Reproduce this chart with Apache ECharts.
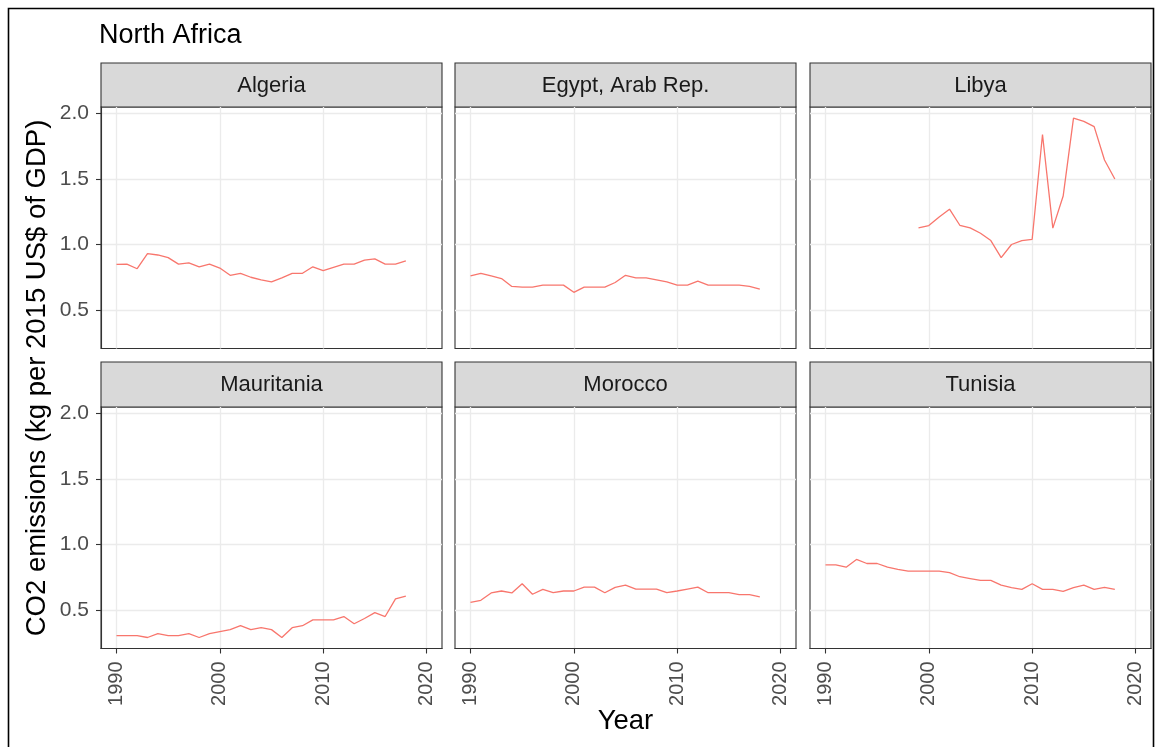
<!DOCTYPE html>
<html><head><meta charset="utf-8">
<script src="https://cdn.jsdelivr.net/npm/echarts@6/dist/echarts.min.js"></script>
<style>html,body{margin:0;padding:0;background:#fff;}#chart{width:1161px;height:747px;}</style>
</head><body><div id="chart"></div>
<script>
const years = [1990,1991,1992,1993,1994,1995,1996,1997,1998,1999,2000,2001,2002,2003,2004,2005,2006,2007,2008,2009,2010,2011,2012,2013,2014,2015,2016,2017,2018];
const countries = ['Algeria','Egypt, Arab Rep.','Libya','Mauritania','Morocco','Tunisia'];
const algeria = [0.848,0.85,0.815,0.93,0.92,0.90,0.85,0.86,0.83,0.85,0.82,0.765,0.78,0.75,0.73,0.715,0.745,0.78,0.78,0.83,0.80,0.825,0.85,0.85,0.88,0.89,0.85,0.85,0.875];
const egypt = [0.76,0.78,0.76,0.74,0.68,0.675,0.675,0.69,0.69,0.69,0.635,0.675,0.675,0.675,0.71,0.765,0.745,0.745,0.73,0.715,0.69,0.69,0.72,0.69,0.69,0.69,0.69,0.68,0.66];
const libya = [null,null,null,null,null,null,null,null,null,1.127,1.145,1.21,1.27,1.147,1.127,1.086,1.03,0.90,1.0,1.03,1.04,1.84,1.125,1.37,1.965,1.94,1.90,1.645,1.5];
const mauritania = [0.305,0.305,0.305,0.29,0.32,0.305,0.305,0.32,0.29,0.32,0.335,0.35,0.38,0.35,0.365,0.35,0.29,0.365,0.38,0.425,0.425,0.425,0.45,0.395,0.435,0.48,0.45,0.585,0.605];
const morocco = [0.558,0.574,0.63,0.645,0.63,0.70,0.62,0.657,0.632,0.645,0.645,0.675,0.675,0.632,0.673,0.69,0.66,0.66,0.66,0.632,0.645,0.66,0.675,0.632,0.632,0.632,0.617,0.617,0.60];
const tunisia = [0.845,0.845,0.827,0.886,0.855,0.855,0.827,0.81,0.797,0.797,0.797,0.797,0.785,0.754,0.74,0.726,0.726,0.69,0.67,0.657,0.70,0.657,0.657,0.642,0.67,0.69,0.657,0.673,0.657];
const xTicks = [1990,2000,2010,2020];
const yTicks = [0.5,1.0,1.5,2.0];
const title = 'North Africa';
const xTitle = 'Year';
const yTitle = 'CO2 emissions (kg per 2015 US$ of GDP)';

const values = [algeria, egypt, libya, mauritania, morocco, tunisia];
const FONT = "'Liberation Sans', Arial, sans-serif";
const colLeft = [101, 455, 810], colW = 341;
const rowTop = [107, 407], rowH = 241.5;
const stripTop = [63, 362];
const xMin = 1988.5, xMax = 2021.5, yMin = 0.206, yMax = 2.05;

const grids = [], xAxes = [], yAxes = [], series = [], graphics = [];
countries.forEach((name, i) => {
  const r = Math.floor(i / 3), c = i % 3;
  grids.push({left: colLeft[c], top: rowTop[r], width: colW, height: rowH, show: true,
    borderColor: '#333333', borderWidth: 1.1, backgroundColor: 'transparent'});
  const bottom = r === 1, left = c === 0;
  xAxes.push({type: 'value', gridIndex: i, min: xMin, max: xMax,
    axisLine: {show: bottom, onZero: false, lineStyle: {color: '#333333', width: 1.1}},
    axisTick: {show: bottom, length: 5, customValues: xTicks, lineStyle: {color: '#333333', width: 1.1}},
    axisLabel: {show: bottom, customValues: xTicks, rotate: 90, margin: 13, color: '#4D4D4D', fontSize: 20, fontFamily: FONT,
      formatter: v => String(v)},
    splitLine: {show: true, lineStyle: {color: '#EBEBEB', width: 1.3}}
  });
  yAxes.push({type: 'value', gridIndex: i, min: yMin, max: yMax,
    axisLine: {show: left, onZero: false, lineStyle: {color: '#333333', width: 1.1}},
    axisTick: {show: left, length: 5, customValues: yTicks, lineStyle: {color: '#333333', width: 1.1}},
    axisLabel: {show: left, customValues: yTicks, margin: 12, color: '#4D4D4D', fontSize: 21, fontFamily: FONT,
      formatter: v => v.toFixed(1)},
    splitLine: {show: true, lineStyle: {color: '#EBEBEB', width: 1.3}}
  });
  series.push({type: 'line', name: name, xAxisIndex: i, yAxisIndex: i, showSymbol: false, symbol: 'none',
    connectNulls: false, lineStyle: {color: '#F8766D', width: 1.3}, itemStyle: {color: '#F8766D'},
    data: years.map((y, k) => [y, values[i][k]])});
  graphics.push({type: 'rect', shape: {x: colLeft[c], y: stripTop[r], width: colW, height: rowTop[r] - stripTop[r]},
    style: {fill: '#D9D9D9', stroke: '#333333', lineWidth: 1.1}});
  graphics.push({type: 'text', x: colLeft[c] + colW / 2, y: (stripTop[r] + rowTop[r]) / 2 + 0.5,
    style: {text: name, fill: '#1A1A1A', font: '22px ' + FONT, textAlign: 'center', textVerticalAlign: 'middle'}});
});
graphics.push({type: 'rect', shape: {x: 8.5, y: 8.5, width: 1145, height: 760},
  style: {fill: 'none', stroke: '#000000', lineWidth: 1.6}, z: 10});
graphics.push({type: 'text', x: 99, y: 36, style: {text: title, fill: '#000000', font: '27px ' + FONT, textAlign: 'left', textVerticalAlign: 'middle'}});
graphics.push({type: 'text', x: 625.5, y: 721, style: {text: xTitle, fill: '#000000', font: '27.5px ' + FONT, textAlign: 'center', textVerticalAlign: 'middle'}});
graphics.push({type: 'text', x: 37, y: 378, rotation: Math.PI / 2, style: {text: yTitle, fill: '#000000', font: '27.5px ' + FONT, textAlign: 'center', textVerticalAlign: 'middle'}});

const chart = echarts.init(document.getElementById('chart'), null, {renderer: 'canvas'});
chart.setOption({animation: false, backgroundColor: '#ffffff', grid: grids, xAxis: xAxes, yAxis: yAxes, series: series, graphic: graphics});
</script></body></html>
